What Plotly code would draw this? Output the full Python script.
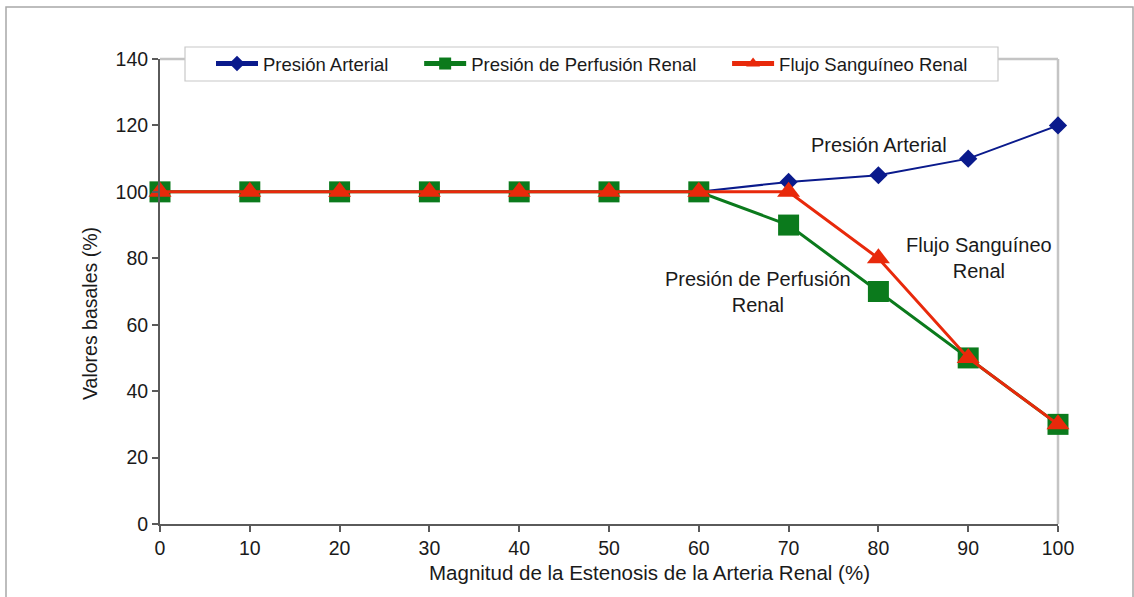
import plotly.graph_objects as go

estenosis = [0, 10, 20, 30, 40, 50, 60, 70, 80, 90, 100]
presion_arterial = [100, 100, 100, 100, 100, 100, 100, 103, 105, 110, 120]
presion_perfusion = [100, 100, 100, 100, 100, 100, 100, 90, 70, 50, 30]
flujo_sanguineo = [100, 100, 100, 100, 100, 100, 100, 100, 80, 50, 30]

series_names = ["Presión Arterial", "Presión de Perfusión Renal", "Flujo Sanguíneo Renal"]

x_ticks = [0, 10, 20, 30, 40, 50, 60, 70, 80, 90, 100]
y_ticks = [0, 20, 40, 60, 80, 100, 120, 140]

FONT = "Liberation Sans, Arial, sans-serif"
BLUE = "#0a1a8c"
GREEN = "#0b7a1c"
RED = "#e8290b"
TXT = "#1a1a1a"

W, H = 1134, 597
L, R, T, B = 160, 1058, 59, 524

PAD = "\u00a0" * 5

fig = go.Figure()
fig.add_trace(go.Scatter(x=estenosis, y=presion_arterial, name=series_names[0] + PAD,
                         mode="lines+markers",
                         line=dict(color=BLUE, width=2),
                         marker=dict(symbol="diamond", size=14, color=BLUE)))
fig.add_trace(go.Scatter(x=estenosis, y=presion_perfusion, name=series_names[1] + PAD,
                         mode="lines+markers",
                         line=dict(color=GREEN, width=3),
                         marker=dict(symbol="square", size=21, color=GREEN)))
fig.add_trace(go.Scatter(x=estenosis, y=flujo_sanguineo, name=series_names[2],
                         mode="lines+markers",
                         line=dict(color=RED, width=3),
                         marker=dict(symbol="triangle-up", size=20, color=RED)))

def px(xp):
    return (xp - L) / (R - L)

def py(yp):
    return (B - yp) / (B - T)

shapes = [
    dict(type="rect", xref="paper", yref="paper",
         x0=px(6), x1=px(1133), y0=py(610), y1=py(7),
         line=dict(color="#a8a8a8", width=1.5), layer="below"),
    dict(type="line", xref="paper", yref="paper", x0=0, x1=1, y0=1, y1=1,
         line=dict(color="#c4c4c4", width=2.5)),
    dict(type="line", xref="paper", yref="paper", x0=1, x1=1, y0=0, y1=1,
         line=dict(color="#c4c4c4", width=2.5), layer="below"),
    # legend box
    dict(type="rect", xref="paper", yref="paper",
         x0=px(185), x1=px(998), y0=py(81), y1=py(47),
         fillcolor="white", line=dict(color="#c8c8c8", width=1.2), layer="above"),
]

annotations = [
    dict(text="Presión Arterial", x=879, y=145),
    dict(text="Presión de Perfusión<br>Renal", x=758, y=292),
    dict(text="Flujo Sanguíneo<br>Renal", x=979, y=258),
]
ann = []
for a in annotations:
    ann.append(dict(text=a["text"], xref="paper", yref="paper",
                    x=px(a["x"]), y=py(a["y"]), xanchor="center", yanchor="middle",
                    showarrow=False, align="center",
                    font=dict(family=FONT, size=20, color=TXT)))
ann.append(dict(text="Magnitud de la Estenosis de la Arteria Renal (%)", xref="paper", yref="paper",
                x=px(649), y=py(572), xanchor="center", yanchor="middle", showarrow=False,
                font=dict(family=FONT, size=20.5, color=TXT)))
ann.append(dict(text="Valores basales (%)", xref="paper", yref="paper",
                x=px(90), y=py(314), xanchor="center", yanchor="middle", showarrow=False,
                textangle=-90, font=dict(family=FONT, size=19.5, color=TXT)))

fig.update_layout(
    width=W, height=H,
    margin=dict(l=L, r=W - R, t=T, b=H - B, pad=0),
    paper_bgcolor="white", plot_bgcolor="white",
    font=dict(family=FONT, color=TXT),
    showlegend=True,
    legend=dict(orientation="h", x=px(211), y=py(45), xanchor="left", yanchor="top",
                bgcolor="rgba(0,0,0,0)", borderwidth=0,
                font=dict(family=FONT, size=18.5, color=TXT),
                itemsizing="constant", itemwidth=42),
    shapes=shapes,
    annotations=ann,
    xaxis=dict(range=[0, 100], tickvals=x_ticks, ticktext=[str(v) for v in x_ticks],
               showgrid=False, zeroline=False, showline=True, linecolor="#5a5a5a", linewidth=2,
               ticks="outside", ticklen=6, tickwidth=1.5, tickcolor="#5a5a5a",
               tickfont=dict(family=FONT, size=19.5, color=TXT)),
    yaxis=dict(range=[0, 140], tickvals=y_ticks, ticktext=[str(v) for v in y_ticks],
               showgrid=False, zeroline=False, showline=True, linecolor="#5a5a5a", linewidth=2,
               ticks="outside", ticklen=6, tickwidth=1.5, tickcolor="#5a5a5a",
               tickfont=dict(family=FONT, size=19.5, color=TXT)),
)

for tr in fig.data:
    tr.cliponaxis = False

fig.write_html("out.html", config={"displayModeBar": False},
               post_script="document.body.style.margin='0px';")
